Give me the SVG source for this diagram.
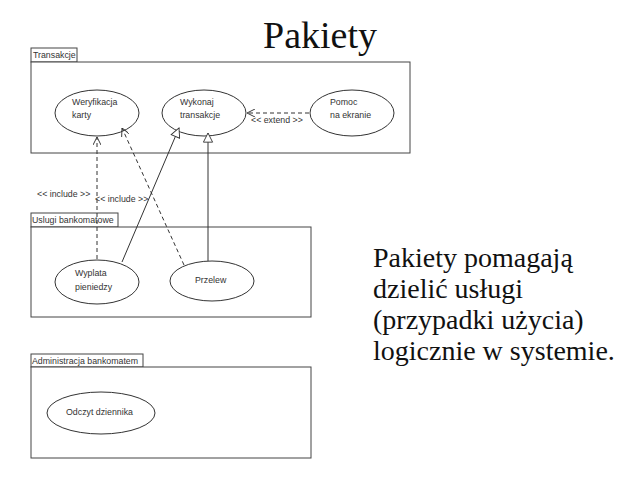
<svg xmlns="http://www.w3.org/2000/svg" width="640" height="480" viewBox="0 0 640 480">
<defs>
<style>
.pk{fill:#fff;stroke:#444;stroke-width:1}
.uc{fill:#fff;stroke:#333;stroke-width:1}
.t{font-family:"Liberation Sans",Arial,sans-serif;font-size:8.8px;fill:#333}
.dash{fill:none;stroke:#333;stroke-width:1;stroke-dasharray:4,3}
.sol{fill:none;stroke:#333;stroke-width:1}
.big{font-family:"Liberation Serif","Times New Roman",serif;fill:#111}
</style>
<marker id="open" viewBox="0 0 10 10" refX="10" refY="5" markerWidth="8" markerHeight="8" orient="auto" markerUnits="userSpaceOnUse">
<path d="M0,0 L10,5 L0,10" fill="none" stroke="#333" stroke-width="1.2"/>
</marker>
<marker id="tri" viewBox="0 0 12 12" refX="11" refY="6" markerWidth="11" markerHeight="11" orient="auto" markerUnits="userSpaceOnUse">
<path d="M1,1 L11,6 L1,11 Z" fill="#fff" stroke="#333" stroke-width="1"/>
</marker>
</defs>
<rect width="640" height="480" fill="#fff"/>
<text class="big" x="320" y="48" font-size="38" text-anchor="middle">Pakiety</text>

<g id="pkg-transakcje">
<rect class="pk" x="31" y="48" width="46" height="14"/>
<rect class="pk" x="31" y="62" width="379" height="91"/>
<text class="t" x="33" y="58">Transakcje</text>
</g>
<g id="pkg-uslugi">
<rect class="pk" x="31" y="213" width="87" height="14"/>
<rect class="pk" x="31" y="227" width="280" height="90"/>
<text class="t" x="32" y="223">Uslugi bankomatowe</text>
</g>
<g id="pkg-admin">
<rect class="pk" x="31" y="354" width="112" height="13"/>
<rect class="pk" x="31" y="367" width="280" height="91"/>
<text class="t" x="32" y="364">Administracja bankomatem</text>
</g>

<g id="uc-weryfikacja">
<ellipse class="uc" cx="97" cy="113" rx="42" ry="23"/>
<text class="t" x="72" y="105">Weryfikacja</text>
<text class="t" x="72" y="118">karty</text>
</g>
<g id="uc-wykonaj">
<ellipse class="uc" cx="204" cy="113" rx="42" ry="23"/>
<text class="t" x="180" y="105">Wykonaj</text>
<text class="t" x="180" y="118">transakcje</text>
</g>
<g id="uc-pomoc">
<ellipse class="uc" cx="352" cy="113" rx="42" ry="23"/>
<text class="t" x="330" y="105">Pomoc</text>
<text class="t" x="330" y="118">na ekranie</text>
</g>
<g id="uc-wyplata">
<ellipse class="uc" cx="97" cy="282" rx="42" ry="22"/>
<text class="t" x="75" y="276">Wyplata</text>
<text class="t" x="75" y="290">pieniedzy</text>
</g>
<g id="uc-przelew">
<ellipse class="uc" cx="212" cy="281" rx="42" ry="20"/>
<text class="t" x="195" y="283">Przelew</text>
</g>
<g id="uc-odczyt">
<ellipse class="uc" cx="101" cy="413" rx="54" ry="21"/>
<text class="t" x="66" y="415">Odczyt dziennika</text>
</g>

<g id="connectors">
<line class="dash" x1="309" y1="113" x2="247" y2="113" marker-end="url(#open)"/>
<text class="t" x="251" y="123">&lt;&lt; extend &gt;&gt;</text>
<line class="dash" x1="97" y1="259" x2="97" y2="137" marker-end="url(#open)"/>
<text class="t" x="37" y="197">&lt;&lt; include &gt;&gt;</text>
<line class="dash" x1="184" y1="265" x2="122" y2="128" marker-end="url(#open)"/>
<text class="t" x="95" y="202">&lt;&lt; include &gt;&gt;</text>
<line class="sol" x1="122" y1="262" x2="179" y2="128" marker-end="url(#tri)"/>
<line class="sol" x1="208" y1="261" x2="208" y2="133" marker-end="url(#tri)"/>
</g>

<text class="big" font-size="28">
<tspan x="373" y="267">Pakiety pomagają</tspan>
<tspan x="373" y="298">dzielić usługi</tspan>
<tspan x="373" y="329">(przypadki użycia)</tspan>
<tspan x="373" y="360">logicznie w systemie.</tspan>
</text>
</svg>
